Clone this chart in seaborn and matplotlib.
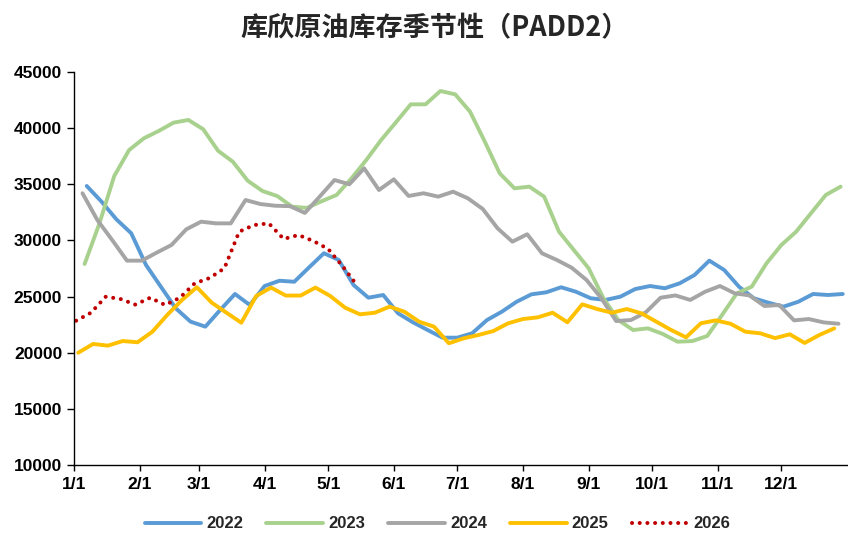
import numpy as np
import pandas as pd
import matplotlib
matplotlib.use('Agg')
import matplotlib.pyplot as plt
import seaborn as sns

# weekly Cushing stocks (thousand barrels)
START_DATES = {
    '2022': '2022-01-07',
    '2023': '2023-01-06',
    '2024': '2024-01-05',
    '2025': '2025-01-03',
    '2026': '2026-01-02',
}

y2022 = [34850, 33450, 31880, 30640, 27810, 25880, 23960, 22770, 22320, 23800,
         25230, 24250, 25940, 26410, 26320, 27600, 28860, 28260, 26030, 24900,
         25140, 23510, 22710, 22020, 21340, 21340, 21730, 22910, 23650, 24540,
         25200, 25380, 25830, 25430, 24850, 24700, 24990, 25670, 25940, 25740,
         26180, 26920, 28200, 27370, 25880, 24850, 24450, 24100, 24540, 25230,
         25140, 25230]
y2023 = [27900, 31520, 35740, 38050, 39100, 39750, 40490, 40730, 39900, 37990,
         37010, 35320, 34400, 33950, 33000, 32900, 33500, 34050, 35530, 37160,
         38940, 40520, 42120, 42120, 43310, 43010, 41470, 38790, 35980, 34640,
         34790, 33900, 30780, 29150, 27520, 24850, 22910, 22020, 22170, 21670,
         20980, 21040, 21490, 23360, 25290, 25880, 27960, 29590, 30780, 32420,
         34050, 34790]
y2024 = [34200, 31820, 30040, 28200, 28200, 28910, 29590, 30990, 31670, 31520,
         31520, 33600, 33240, 33090, 33050, 32450, 33900, 35380, 35000, 36420,
         34490, 35440, 33960, 34200, 33900, 34340, 33750, 32800, 31080, 29890,
         30550, 28850, 28260, 27570, 26480, 24850, 22820, 22910, 23600, 24900,
         25100, 24700, 25430, 25940, 25290, 25100, 24160, 24250, 22880, 23000,
         22700, 22580]
y2025 = [20000, 20780, 20630, 21040, 20930, 21870, 23360, 24700, 25830, 24460,
         23560, 22670, 25050, 25800, 25090, 25090, 25800, 25050, 24010, 23420,
         23560, 24100, 23650, 22760, 22320, 20840, 21280, 21580, 21930, 22620,
         23000, 23150, 23560, 22710, 24310, 23890, 23560, 23890, 23500, 22760,
         22020, 21370, 22620, 22880, 22580, 21870, 21730, 21300, 21640, 20870,
         21580, 22170]
y2026 = [22850, 23560, 24990, 24780, 24280, 24900, 24250, 24900, 26180, 26650,
         27520, 30780, 31370, 31520, 30130, 30480, 29950, 29240, 27660, 25910]

SERIES = {'2022': y2022, '2023': y2023, '2024': y2024, '2025': y2025, '2026': y2026}
COLORS = {'2022': '#5B9BD5', '2023': '#A9D18E', '2024': '#A5A5A5',
          '2025': '#FFC000', '2026': '#C00000'}

MONTH_LABELS = [f'{m}/1' for m in range(1, 13)]
MONTH_DAYS = [pd.Timestamp(2001, m, 1).dayofyear - 1 for m in range(1, 13)]
Y_TICKS = list(range(10000, 45001, 5000))

TITLE = '库欣原油库存季节性（PADD2）'


def build_frame() -> pd.DataFrame:
    """Long table: Year, Day (days since 1/1), Stock"""
    frames = []
    for year, values in SERIES.items():
        dates = pd.date_range(START_DATES[year], periods=len(values), freq='7D')
        frames.append(pd.DataFrame({'Year': year,
                                    'Day': dates.dayofyear - 1,
                                    'Stock': values}))
    return pd.concat(frames, ignore_index=True)


def seasonal_chart() -> None:
    df = build_frame()
    sns.set_style('ticks')
    plt.rcParams['font.family'] = ['Liberation Sans', 'DejaVu Sans']
    plt.rcParams['font.weight'] = 'bold'

    fig = plt.figure(figsize=(8.48, 5.33), dpi=100)
    ax = fig.add_axes([0.0873, 0.1276, 0.9115, 0.7373])

    for year in SERIES:
        sub = df[df['Year'] == year]
        if year == '2026':
            extra = dict(linestyle=(0, (0.01, 1.9)), dash_capstyle='round', lw=2.9)
        else:
            extra = dict(lw=2.8, solid_joinstyle='round')
        sns.lineplot(data=sub, x='Day', y='Stock', color=COLORS[year], label=year,
                     errorbar=None, sort=False, ax=ax, **extra)

    ax.set_xlim(0, 365)
    ax.set_ylim(10000, 45000)
    ax.set_xticks(MONTH_DAYS, MONTH_LABELS)
    ax.set_yticks(Y_TICKS, [str(v) for v in Y_TICKS])
    ax.set_xlabel('')
    ax.set_ylabel('')
    ax.tick_params(axis='y', length=5, width=1, pad=3.5, labelsize=12.5, colors='black')
    ax.tick_params(axis='x', length=4, width=1, pad=5, labelsize=12.5, colors='black')
    sns.despine(ax=ax)
    for side in ('left', 'bottom'):
        ax.spines[side].set_color('black')
        ax.spines[side].set_linewidth(1)

    handles, labels = ax.get_legend_handles_labels()
    ax.get_legend().remove()
    fig.legend(handles, labels, loc='center', bbox_to_anchor=(0.516, 0.017), ncol=5,
               frameon=False, fontsize=12, handlelength=3.4, handletextpad=0.3,
               columnspacing=1.4)

    fig.text(0.512, 0.946, TITLE, family=['Noto Sans CJK SC', 'DejaVu Sans'],
             fontsize=19.5, fontweight='bold', ha='center', va='center')

    fig.savefig('out.png', dpi=100)
    plt.close(fig)


if __name__ == '__main__':
    seasonal_chart()
